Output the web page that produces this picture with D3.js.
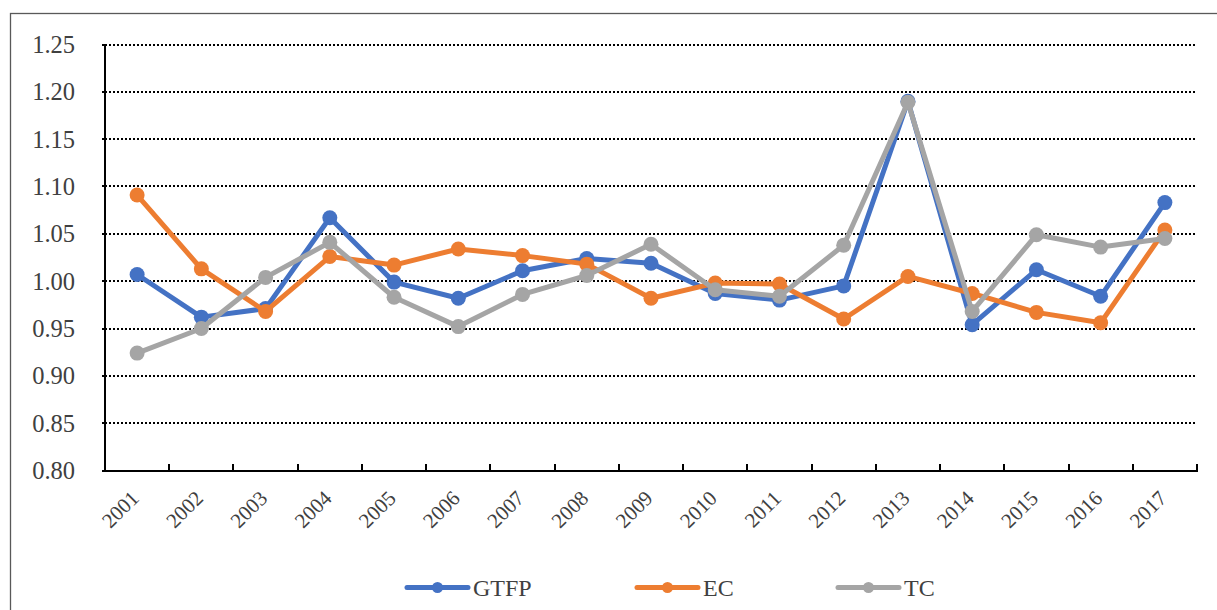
<!DOCTYPE html>
<html>
<head>
<meta charset="utf-8">
<script src="https://cdn.jsdelivr.net/npm/d3@7"></script>
<style>
  html, body { margin: 0; padding: 0; background: #ffffff; }
  svg { display: block; }
  svg text { font-family: "Liberation Serif", "Times New Roman", Times, serif; }
</style>
</head>
<body>
<svg id="chart" width="1217" height="610"></svg>
<script>
const years = ["2001","2002","2003","2004","2005","2006","2007","2008","2009","2010","2011","2012","2013","2014","2015","2016","2017"];
const gtfp = [1.007, 0.962, 0.971, 1.067, 0.999, 0.982, 1.011, 1.024, 1.019, 0.987, 0.980, 0.995, 1.190, 0.954, 1.012, 0.984, 1.083];
const ec   = [1.091, 1.013, 0.968, 1.026, 1.017, 1.034, 1.027, 1.018, 0.982, 0.998, 0.997, 0.960, 1.005, 0.987, 0.967, 0.956, 1.054];
const tc   = [0.924, 0.950, 1.004, 1.041, 0.983, 0.952, 0.986, 1.006, 1.039, 0.991, 0.984, 1.038, 1.189, 0.968, 1.049, 1.036, 1.045];
const yTicks = [0.80, 0.85, 0.90, 0.95, 1.00, 1.05, 1.10, 1.15, 1.20, 1.25];
const seriesNames = ["GTFP", "EC", "TC"];
const seriesColors = ["#4472C4", "#ED7D31", "#A5A5A5"];

const svg = d3.select("#chart");
const textColor = "#404040";

const L = 105, R = 1197, T = 44.5, B = 470.5;

// outer border
svg.append("rect")
  .attr("x", 10.5).attr("y", 13.5)
  .attr("width", 1300).attr("height", 700)
  .attr("fill", "none").attr("stroke", "#595959").attr("stroke-width", 1.3);

const x = d3.scaleBand().domain(years).range([L, R]).padding(0);
const y = d3.scaleLinear().domain([0.80, 1.25]).range([B, T]);

// gridlines
svg.append("g").selectAll("line")
  .data(yTicks.filter(t => t > 0.8))
  .join("line")
  .attr("x1", L).attr("x2", R)
  .attr("y1", d => Math.round(y(d))).attr("y2", d => Math.round(y(d)))
  .attr("stroke", "#000").attr("stroke-width", 2)
  .attr("shape-rendering", "crispEdges")
  .attr("stroke-dasharray", "2,2");

// y axis
const yAxis = d3.axisLeft(y).tickValues(yTicks).tickSize(3).tickFormat("");
const gy = svg.append("g").attr("transform", `translate(${L},0)`).call(yAxis);
gy.select(".domain").remove();
gy.selectAll(".tick line")
  .attr("transform", function() { return null; })
  .attr("stroke", "#000").attr("stroke-width", 2).attr("shape-rendering", "crispEdges");
gy.selectAll(".tick").attr("transform", d => `translate(0,${Math.round(y(d))})`);
svg.append("line").attr("x1", L).attr("x2", L).attr("y1", Math.round(T) - 1).attr("y2", Math.round(B) + 1)
  .attr("stroke", "#000").attr("stroke-width", 2).attr("shape-rendering", "crispEdges");

// y labels
svg.append("g").selectAll("text")
  .data(yTicks)
  .join("text")
  .attr("x", 75).attr("y", d => y(d))
  .attr("dy", "0.35em")
  .attr("text-anchor", "end")
  .attr("font-size", 24.5)
  .attr("fill", textColor)
  .text(d => d3.format(".2f")(d));

// x axis
svg.append("line").attr("x1", L - 1).attr("x2", R + 1).attr("y1", Math.round(B)).attr("y2", Math.round(B))
  .attr("stroke", "#000").attr("stroke-width", 2).attr("shape-rendering", "crispEdges");
const boundaries = years.map(yr => x(yr)).concat([x(years[years.length - 1]) + x.bandwidth()]);
svg.append("g").selectAll("line")
  .data(boundaries.slice(1))
  .join("line")
  .attr("x1", d => Math.round(d)).attr("x2", d => Math.round(d))
  .attr("y1", Math.round(B)).attr("y2", Math.round(B) - 7)
  .attr("stroke", "#000").attr("stroke-width", 2).attr("shape-rendering", "crispEdges");

// x labels
svg.append("g").selectAll("text")
  .data(years)
  .join("text")
  .attr("transform", d => `translate(${x(d) + x.bandwidth() / 2 + 3},${B + 29}) rotate(-45)`)
  .attr("text-anchor", "end")
  .attr("font-size", 21)
  .attr("fill", textColor)
  .text(d => d);

// series
const allSeries = [gtfp, ec, tc];
const line = d3.line()
  .x((d, i) => x(years[i]) + x.bandwidth() / 2)
  .y(d => y(d));

allSeries.forEach((vals, si) => {
  const g = svg.append("g");
  g.append("path")
    .datum(vals)
    .attr("d", line)
    .attr("fill", "none")
    .attr("stroke", seriesColors[si])
    .attr("stroke-width", 5)
    .attr("stroke-linejoin", "round")
    .attr("stroke-linecap", "round");
  g.selectAll("circle")
    .data(vals)
    .join("circle")
    .attr("cx", (d, i) => x(years[i]) + x.bandwidth() / 2)
    .attr("cy", d => y(d))
    .attr("r", 7.5)
    .attr("fill", seriesColors[si]);
});

// legend
const legendX = [407, 637, 838];
const legendY = 587.5;
seriesNames.forEach((name, i) => {
  const g = svg.append("g");
  g.append("line")
    .attr("x1", legendX[i]).attr("x2", legendX[i] + 61)
    .attr("y1", legendY).attr("y2", legendY)
    .attr("stroke", seriesColors[i]).attr("stroke-width", 5)
    .attr("stroke-linecap", "round");
  g.append("circle")
    .attr("cx", legendX[i] + 30.5).attr("cy", legendY).attr("r", 5.5)
    .attr("fill", seriesColors[i]);
  g.append("text")
    .attr("x", legendX[i] + 66).attr("y", legendY)
    .attr("dy", "0.35em")
    .attr("font-size", 24)
    .attr("fill", textColor)
    .text(name);
});
</script>
</body>
</html>
